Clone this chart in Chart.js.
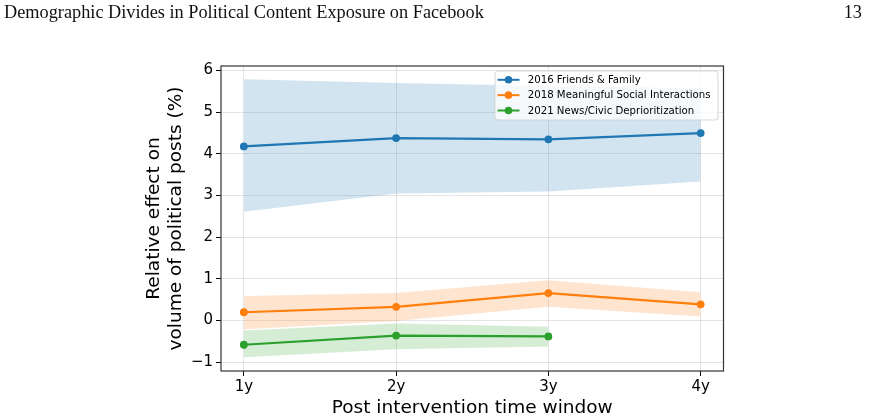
<!DOCTYPE html>
<html>
<head>
<meta charset="utf-8">
<script src="https://cdn.jsdelivr.net/npm/chart.js@4/dist/chart.umd.min.js"></script>
<style>
  html, body { margin: 0; padding: 0; background: #fff; }
  #wrap { position: relative; width: 869px; height: 420px; }
  #chart { position: absolute; left: 0; top: 0; }
  .runhead {
    position: absolute; top: 2px;
    font-family: "Liberation Serif", "DejaVu Serif", serif;
    font-size: 18.3px; color: #111; white-space: nowrap;
  }
  #title { left: 4px; }
  #page { right: 7px; }
</style>
</head>
<body>
<div id="wrap">
  <canvas id="chart" width="869" height="420"></canvas>
  <div class="runhead" id="title">Demographic Divides in Political Content Exposure on Facebook</div>
  <div class="runhead" id="page">13</div>
</div>
<script>
// values
const windows = ['1y', '2y', '3y', '4y'];
const yTicks = [-1, 0, 1, 2, 3, 4, 5, 6];

const friendsFamily = [4.18, 4.38, 4.35, 4.50];
const friendsFamilyLow = [2.61, 3.05, 3.10, 3.34];
const friendsFamilyHigh = [5.79, 5.70, 5.63, 5.58];

const msi = [0.20, 0.33, 0.66, 0.39];
const msiLow = [-0.21, -0.01, 0.33, 0.10];
const msiHigh = [0.59, 0.66, 0.97, 0.68];

const newsCivic = [-0.58, -0.36, -0.38];
const newsCivicLow = [-0.88, -0.69, -0.62];
const newsCivicHigh = [-0.24, -0.07, -0.15];

const seriesNames = ['2016 Friends & Family', '2018 Meaningful Social Interactions', '2021 News/Civic Deprioritization'];
const colors = ['#1f77b4', '#ff7f0e', '#2ca02c'];
const bandColors = ['rgba(31,119,180,0.2)', 'rgba(255,127,14,0.2)', 'rgba(44,160,44,0.2)'];

const toPoints = arr => arr.map((v, i) => ({ x: i + 1, y: v }));

const series = [
    { mid: friendsFamily, low: friendsFamilyLow, high: friendsFamilyHigh },
    { mid: msi, low: msiLow, high: msiHigh },
    { mid: newsCivic, low: newsCivicLow, high: newsCivicHigh }
];

const datasets = [];
series.forEach((s, k) => {
    datasets.push({
        label: seriesNames[k],
        data: toPoints(s.mid),
        borderColor: colors[k],
        backgroundColor: colors[k],
        borderWidth: 2.2,
        pointRadius: 3.9,
        pointBorderWidth: 0,
        pointHoverRadius: 3.9,
        fill: false,
        tension: 0,
        order: 0
    });
    datasets.push({
        label: '_band',
        data: toPoints(s.high),
        borderWidth: 0,
        pointRadius: 0,
        backgroundColor: bandColors[k],
        fill: '+1',
        order: 1
    });
    datasets.push({
        label: '_band',
        data: toPoints(s.low),
        borderWidth: 0,
        pointRadius: 0,
        fill: false,
        order: 1
    });
});

const minusFmt = v => (v < 0 ? '\u2212' + Math.abs(v) : String(v));

// frame (top/right spines too) and the matplotlib style legend
const framePlugin = {
    id: 'frame',
    afterDraw(chart) {
        const { ctx, chartArea: a } = chart;
        ctx.save();
        ctx.strokeStyle = '#333';
        ctx.lineWidth = 1.2;
        ctx.strokeRect(a.left, a.top, a.right - a.left, a.bottom - a.top);

        // legend box
        const w = 223, h = 49;
        const x0 = a.right - 5.5 - w, y0 = a.top + 5;
        ctx.beginPath();
        ctx.roundRect(x0, y0, w, h, 3);
        ctx.fillStyle = 'rgba(255,255,255,0.8)';
        ctx.fill();
        ctx.strokeStyle = 'rgba(204,204,204,0.8)';
        ctx.lineWidth = 1;
        ctx.stroke();

        ctx.font = '10.2px "DejaVu Sans"';
        ctx.textBaseline = 'middle';
        seriesNames.forEach((name, k) => {
            const cy = y0 + 8.8 + k * 15.35;
            ctx.strokeStyle = colors[k];
            ctx.lineWidth = 2;
            ctx.beginPath();
            ctx.moveTo(x0 + 2.5, cy);
            ctx.lineTo(x0 + 24.5, cy);
            ctx.stroke();
            ctx.fillStyle = colors[k];
            ctx.beginPath();
            ctx.arc(x0 + 13.5, cy, 3.8, 0, Math.PI * 2);
            ctx.fill();
            ctx.fillStyle = '#000';
            ctx.fillText(name, x0 + 32.7, cy + 0.5);
        });
        ctx.restore();
    }
};

new Chart(document.getElementById('chart'), {
    type: 'line',
    data: { datasets },
    options: {
        responsive: false,
        animation: false,
        events: [],
        layout: { padding: { left: 140, top: 66, right: 145.5, bottom: 0 } },
        plugins: {
            legend: { display: false },
            tooltip: { enabled: false }
        },
        scales: {
            x: {
                type: 'linear',
                min: 0.85,
                max: 4.15,
                afterBuildTicks: scale => {
                    scale.ticks = windows.map((w, i) => ({ value: i + 1 }));
                },
                afterFit: scale => { scale.height = 49; },
                ticks: {
                    callback: v => windows[v - 1],
                    color: '#000',
                    font: { family: 'DejaVu Sans', size: 15 },
                    padding: 2,
                    maxRotation: 0
                },
                grid: {
                    color: 'rgba(0,0,0,0.1)',
                    tickColor: '#000',
                    tickLength: 5,
                    lineWidth: 1
                },
                border: { display: false },
                title: {
                    display: true,
                    text: 'Post intervention time window',
                    color: '#000',
                    font: { family: 'DejaVu Sans', size: 18.5 },
                    padding: { top: 0, bottom: 1 }
                }
            },
            y: {
                type: 'linear',
                min: -1.21,
                max: 6.11,
                afterBuildTicks: scale => {
                    scale.ticks = yTicks.map(v => ({ value: v }));
                },
                afterFit: scale => { scale.width = 81; },
                ticks: {
                    callback: minusFmt,
                    color: '#000',
                    font: { family: 'DejaVu Sans', size: 15 },
                    padding: 3
                },
                grid: {
                    color: 'rgba(0,0,0,0.1)',
                    tickColor: '#000',
                    tickLength: 5,
                    lineWidth: 1
                },
                border: { display: false },
                title: {
                    display: true,
                    text: ['Relative effect on', 'volume of political posts (%)'],
                    color: '#000',
                    font: { family: 'DejaVu Sans', size: 18.5, lineHeight: 1.17 },
                    padding: { top: 3.5, bottom: 0 }
                }
            }
        }
    },
    plugins: [framePlugin]
});
</script>
</body>
</html>
